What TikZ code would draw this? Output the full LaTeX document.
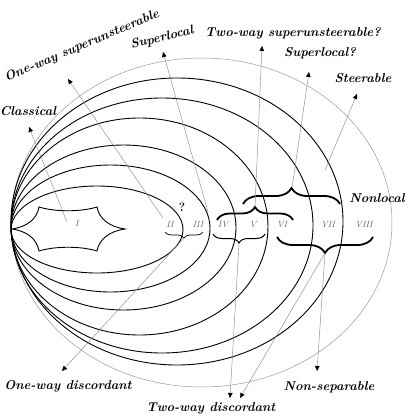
\documentclass[tikz,border=0pt]{standalone}
\usetikzlibrary{arrows.meta,decorations.pathreplacing}
\begin{document}
\begin{tikzpicture}[x=1pt,y=-1pt,
  ell/.style={line width=0.9pt},
  gell/.style={line width=0.5pt,draw=black!40},
  arr/.style={draw=black!45,line width=0.45pt,-{Triangle[length=5pt,width=4.5pt,color=black]}},
  lab/.style={font=\fontsize{12.8}{15}\selectfont\bfseries\itshape,inner sep=0pt},
  rom/.style={font=\fontsize{9}{11}\selectfont\itshape,text=black!60,inner sep=0pt},
  bracedeco/.style={decorate,decoration={brace,amplitude=#1}},
  bracemir/.style={decorate,decoration={brace,mirror,amplitude=#1}}
]
\useasboundingbox (0,0) rectangle (409,418);
% outer gray ellipse
\draw[gell] (201.5,222.5) ellipse [x radius=190.5, y radius=164.5];
% black ellipses
\draw[ell] (177,221.5) ellipse [x radius=166, y radius=143.5];
\draw[ell] (162,225.5) ellipse [x radius=151, y radius=127.5];
\draw[ell] (139.5,226.5) ellipse [x radius=128.5, y radius=108.5];
\draw[ell] (123.5,227.5) ellipse [x radius=112.5, y radius=82.5];
\draw[ell] (110.5,228.5) ellipse [x radius=99.5, y radius=63.5];
\draw[ell] (97,229.5) ellipse [x radius=86, y radius=43.5];
% star (region I)
\draw[ell] (11.7,229) .. controls (27,227) and (37,219) .. (39,207)
  .. controls (55,212) and (81,212) .. (97,207)
  .. controls (99,219) and (110,227) .. (125,229)
  .. controls (110,231) and (99,239) .. (97,251)
  .. controls (81,246) and (55,246) .. (39,251)
  .. controls (37,239) and (27,231) .. (11.7,229);
% roman numerals
\node[rom] (r1) at (77,223) {I};
\node[rom] (r2) at (170,224) {II};
\node[rom] (r3) at (198,224) {III};
\node[rom] (r4) at (223,225) {IV};
\node[rom] (r5) at (253,225) {V};
\node[rom] (r6) at (282,225) {VI};
\node[rom] (r7) at (328,225) {VII};
\node[rom] (r8) at (364,225) {VIII};
\node[font=\large\bfseries,inner sep=0pt] (q) at (182,207) {?};
% braces
\draw[bracemir=6pt,line width=0.7pt] (165,232) -- (203,232);
\draw[bracemir=9pt,line width=1pt] (213,234) -- (265,234);
\draw[bracedeco=13pt,line width=1.8pt] (217,220) -- (293,220);
\draw[bracedeco=16pt,line width=1.8pt] (243,204) -- (340,204);
\draw[bracemir=16pt,line width=1.8pt] (277,237) -- (373,237);
\coordinate (tA) at (184,238);
\coordinate (tB) at (239,243);
\coordinate (tC) at (255,207);
\coordinate (tD) at (292,188);
\coordinate (tE) at (325,253);
% labels
\node[lab] (lCl) at (28,111) {Classical};
\node[lab,rotate=23] (lOws) at (82,46) {One-way superunsteerable};
\node[lab,rotate=14] (lSl) at (162,38) {Superlocal};
\node[lab] (lTws) at (293,33) {Two-way superunsteerable?};
\node[lab] (lSlq) at (320,53) {Superlocal?};
\node[lab] (lSt) at (363,78) {Steerable};
\node[lab] (lNl) at (377,198) {Nonlocal};
\node[lab] (lOwd) at (68,386) {One-way discordant};
\node[lab] (lTwd) at (211,408) {Two-way discordant};
\node[lab] (lNs) at (329,387) {Non-separable};
% arrow ends
\coordinate (sI) at (67,222);
\coordinate (eCl) at (29,127);
\coordinate (sII) at (163,218);
\coordinate (eOws) at (68,79);
\coordinate (sIII) at (208,212);
\coordinate (eSl) at (163,52);
\coordinate (eTws) at (262,46);
\coordinate (eSlq) at (309,72);
\coordinate (sVII) at (325,170);
\coordinate (eSt) at (357,94);
\coordinate (eOwd) at (62,371);
\coordinate (eTwd1) at (230,398);
\coordinate (eTwd2) at (240,398);
\coordinate (eNs) at (317,371);
% arrows
\draw[arr] (sI) -- (eCl);
\draw[arr] (sII) -- (eOws);
\draw[arr] (sIII) -- (eSl);
\draw[arr] (tC) -- (eTws);
\draw[arr] (tD) -- (eSlq);
\draw[arr] (sVII) -- (eSt);
\draw[arr] (tA) -- (eOwd);
\draw[arr] (tB) -- (eTwd1);
\draw[arr] (tE) -- (eTwd2);
\draw[arr] (tE) -- (eNs);
\end{tikzpicture}
\end{document}
